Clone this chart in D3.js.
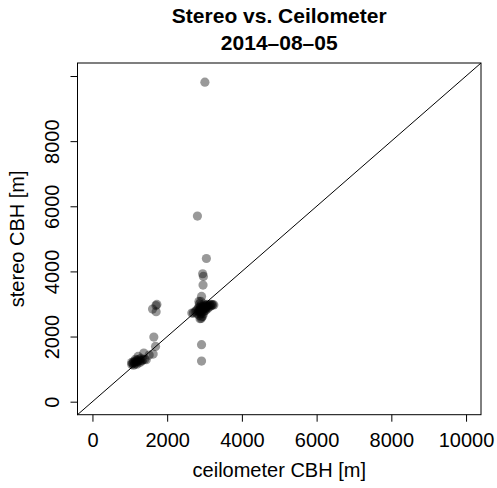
<!DOCTYPE html>
<html>
<head>
<meta charset="utf-8">
<script src="https://cdn.jsdelivr.net/npm/d3@7"></script>
<style>
  body { margin: 0; background: #fff; }
  text { font-family: "Liberation Sans", Arial, Helvetica, sans-serif; fill: #000; }
</style>
</head>
<body>
<div id="chart"></div>
<script>
// values (metres)
const ceilometer = [
  2700, 2750, 2780, 2800, 2820, 2840, 2850, 2860, 2870, 2880, 2890, 2900, 2900, 2910,
  2920, 2930, 2940, 2950, 2960, 2970, 2980, 2990, 3000, 3010, 3020, 3030, 3040, 3050,
  3060, 3080, 3100, 3120, 3140, 3160, 3180, 3200, 3220, 3250, 2880, 2950, 2860, 2900,
  2920, 2960, 2950, 2970, 3050, 2810, 3010, 2920, 2920, 2660, 2910, 2990, 3070, 2850,
  1609, 1724, 1705, 1700, 1643, 1689, 1625, 1518, 1375,
  1050, 1080, 1100, 1120, 1140, 1160, 1180, 1200, 1220, 1250, 1280, 1300, 1320, 1350,
  1400, 1440, 1222, 1150, 1100, 1270, 1190, 1050
];
const stereo = [
  2720, 2760, 2800, 2700, 2850, 2780, 2900, 2650, 2820, 2760, 2880, 2700, 2950, 2800,
  2600, 2870, 2750, 2920, 2830, 2700, 2880, 2780, 2950, 2850, 2900, 2800, 2960, 2880,
  2920, 2850, 2950, 2900, 2980, 2940, 2990, 2960, 2980, 2970, 2550, 2620, 3000, 3080,
  3232, 3580, 3928, 3846, 4397, 5700, 9810, 1749, 1248, 2722, 2557, 3000, 2990, 3078,
  2843, 2986, 2762, 2950, 1985, 1697, 1463, 1432, 1494,
  1140, 1180, 1120, 1200, 1160, 1250, 1210, 1280, 1230, 1300, 1260, 1330, 1250, 1290,
  1300, 1290, 1390, 1300, 1230, 1200, 1150, 1200
];
const tickValues = [0, 2000, 4000, 6000, 8000, 10000];
const titleLines = ["Stereo vs. Ceilometer", "2014\u201308\u201305"];

const width = 497, height = 488;
const box = { left: 77.5, right: 481, top: 63, bottom: 414.7 };

const svg = d3.select("#chart").append("svg")
    .attr("width", width)
    .attr("height", height);

// R pads the 0..10000 limits by 4%
const x = d3.scaleLinear().domain([-400, 10400]).range([box.left, box.right]);
const y = d3.scaleLinear().domain([-400, 10400]).range([box.bottom, box.top]);

const points = ceilometer.map((c, i) => ({ c: c, s: stereo[i] }));

svg.selectAll(".pt")
    .data(points)
  .enter().append("circle")
    .attr("class", "pt")
    .attr("cx", d => x(d.c))
    .attr("cy", d => y(d.s))
    .attr("r", 4.6)
    .attr("fill", "rgba(0,0,0,0.4)");

// 1:1 line
svg.append("line")
    .attr("x1", x(-400)).attr("y1", y(-400))
    .attr("x2", x(10400)).attr("y2", y(10400))
    .attr("stroke", "#000")
    .attr("stroke-width", 1);

// plot frame
svg.append("rect")
    .attr("x", box.left)
    .attr("y", box.top)
    .attr("width", box.right - box.left)
    .attr("height", box.bottom - box.top)
    .attr("fill", "none")
    .attr("stroke", "#000")
    .attr("stroke-width", 1);

// x axis
const xAxis = svg.append("g")
    .attr("transform", "translate(0," + box.bottom + ")")
    .call(d3.axisBottom(x).tickValues(tickValues).tickSize(7).tickPadding(11).tickFormat(d3.format("d")));
xAxis.select(".domain").remove();
xAxis.selectAll("text").attr("font-size", "20px").attr("fill", "#000");
xAxis.selectAll("line").attr("stroke", "#000");

// y axis, labels parallel to the axis
const yAxis = svg.append("g")
    .attr("transform", "translate(" + box.left + ",0)")
    .call(d3.axisLeft(y).tickValues(tickValues).tickSize(7)
        .tickFormat(d => d === 10000 ? "" : d3.format("d")(d)));
yAxis.select(".domain").remove();
yAxis.selectAll("line").attr("stroke", "#000");
yAxis.selectAll("text")
    .attr("x", 0)
    .attr("y", -18.5)
    .attr("dy", 0)
    .attr("transform", "rotate(-90)")
    .attr("text-anchor", "middle")
    .attr("font-size", "20px")
    .attr("fill", "#000");

// axis titles
const cx = (box.left + box.right) / 2;
const cy = (box.top + box.bottom) / 2;

svg.append("text")
    .attr("x", cx)
    .attr("y", 477.3)
    .attr("text-anchor", "middle")
    .attr("font-size", "20px")
    .text("ceilometer CBH [m]");

svg.append("text")
    .attr("transform", "translate(23.5," + cy + ") rotate(-90)")
    .attr("text-anchor", "middle")
    .attr("font-size", "20px")
    .text("stereo CBH [m]");

// title
svg.selectAll(".title")
    .data(titleLines)
  .enter().append("text")
    .attr("class", "title")
    .attr("x", cx)
    .attr("y", (d, i) => 22.7 + i * 27.3)
    .attr("text-anchor", "middle")
    .attr("font-size", "21px")
    .attr("font-weight", "bold")
    .text(d => d);
</script>
</body>
</html>
